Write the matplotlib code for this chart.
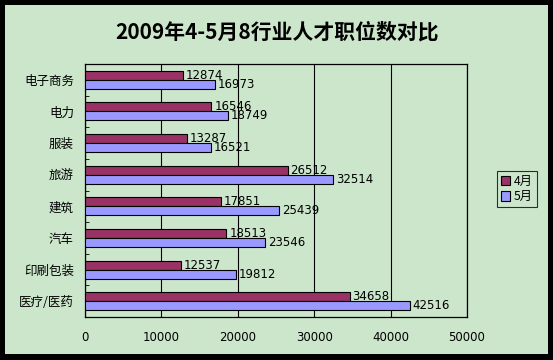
import numpy as np
import matplotlib
matplotlib.use("Agg")
import matplotlib.pyplot as plt
from matplotlib.patches import Rectangle

plt.rcParams['font.family'] = ['Noto Sans CJK SC', 'DejaVu Sans']

categories = ["电子商务", "电力", "服装", "旅游", "建筑", "汽车", "印刷包装", "医疗/医药"]
april = [12874, 16546, 13287, 26512, 17851, 18513, 12537, 34658]
may = [16973, 18749, 16521, 32514, 25439, 23546, 19812, 42516]
series_names = ["4月", "5月"]
title = "2009年4-5月8行业人才职位数对比"

bg = "#CCE6CC"
c_apr = "#993366"
c_may = "#9999FF"

fig = plt.figure(figsize=(5.53, 3.60), dpi=100, facecolor="black")
fig.patches.append(Rectangle((5 / 553, 6 / 360), 543 / 553, 349 / 360,
                             transform=fig.transFigure, facecolor=bg,
                             edgecolor="none", zorder=-10))

ax = fig.add_axes([85 / 553, 1 - 317 / 360, 382 / 553, 253 / 360])
ax.set_facecolor(bg)

y = np.arange(len(categories))
h = 0.285
b1 = ax.barh(y - h / 2, april, height=h, color=c_apr, edgecolor="black", linewidth=0.8, zorder=3)
b2 = ax.barh(y + h / 2, may, height=h, color=c_may, edgecolor="black", linewidth=0.8, zorder=3)
ax.bar_label(b1, labels=[str(v) for v in april], padding=2, fontsize=8.5, family="DejaVu Sans")
ax.bar_label(b2, labels=[str(v) for v in may], padding=2, fontsize=8.5, family="DejaVu Sans")

ax.set_xlim(0, 50000)
ax.set_ylim(len(categories) - 0.5, -0.5)
ax.set_xticks(np.arange(0, 50001, 10000))
ax.set_xticklabels([str(v) for v in range(0, 50001, 10000)], fontsize=8.5, family="DejaVu Sans")
ax.tick_params(axis="x", length=0, pad=10)
ax.xaxis.grid(True, color="black", linewidth=0.8, zorder=1)
ax.set_axisbelow(True)

ax.set_yticks(y)
ax.set_yticklabels(categories, fontsize=9)
ax.set_yticks(np.arange(-0.5, len(categories), 1), minor=True)
ax.tick_params(axis="y", which="major", length=0, pad=8)
ax.tick_params(axis="y", which="minor", direction="in", length=3, color="black")

for s in ax.spines.values():
    s.set_color("black")
    s.set_linewidth(0.9)

leg = ax.legend([b1, b2], series_names, loc="upper left", bbox_to_anchor=(497 / 553, 1 - 171 / 360),
                bbox_transform=fig.transFigure, fontsize=8.8, frameon=True, fancybox=False,
                edgecolor="black", facecolor=bg, handlelength=0.8, handleheight=0.8,
                handletextpad=0.3, borderpad=0.3, labelspacing=0.2, borderaxespad=0)
leg.get_frame().set_linewidth(0.8)

fig.text(277 / 553, 1 - 32 / 360, title, ha="center", va="center", fontsize=15, fontweight="bold")

fig.savefig("out.png", dpi=100, facecolor=fig.get_facecolor())
